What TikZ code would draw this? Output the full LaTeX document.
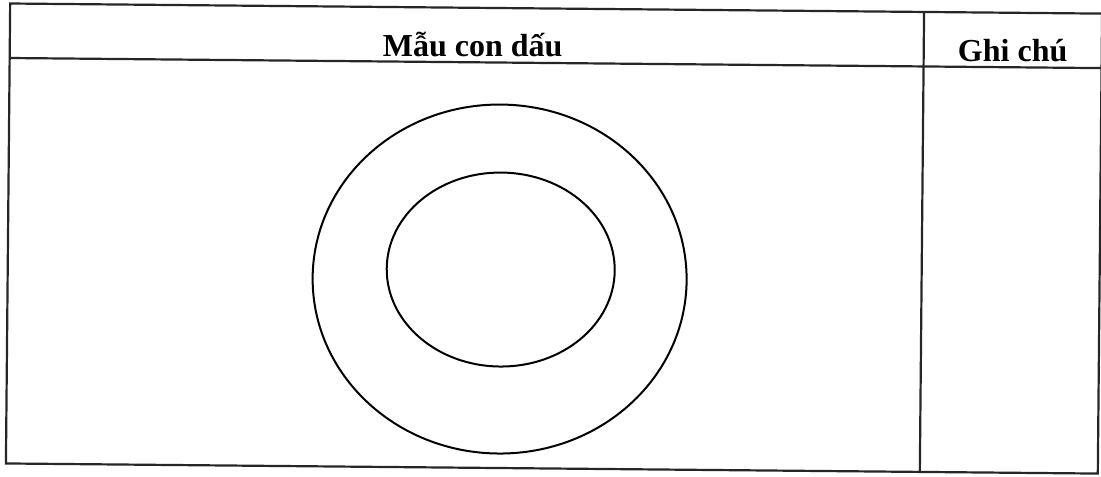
\documentclass[tikz,border=0pt]{standalone}
\usepackage{fontspec}
\setmainfont{Liberation Serif}
\usetikzlibrary{positioning}

\begin{document}
\begin{tikzpicture}[
  x=0.5pt, y=-0.5pt,
  rule/.style={draw=black!85, line width=1.1pt},
  ring/.style={draw=black, line width=1pt},
  headtext/.style={font=\fontsize{16}{19}\selectfont\bfseries, inner sep=0pt, anchor=base}
]
\useasboundingbox (0,0) rectangle (1101,476);

\begin{scope}[rotate around={-0.53:(550,238)}]
% table frame
\coordinate (nw) at (8,8.5);
\coordinate (se) at (1100,468.5);
\coordinate (hl) at (8,63);
\coordinate (hr) at (1100,63);
\coordinate (dtop) at (922,8.5);
\coordinate (dbot) at (922,468.5);

\draw[rule] (nw) rectangle (se);
\draw[rule] (hl) -- (hr);
\draw[rule] (dtop) -- (dbot);

% header texts
\node[headtext] (mau) at (471,57) {Mẫu con dấu};
\node[headtext] (ghichu) at (1011,57) {Ghi chú};

% the stamp outline
\draw[ring] (500,279.5) ellipse [x radius=187, y radius=174.5];
\draw[ring] (501,270) ellipse [x radius=114, y radius=97];
\end{scope}

\end{tikzpicture}
\end{document}
